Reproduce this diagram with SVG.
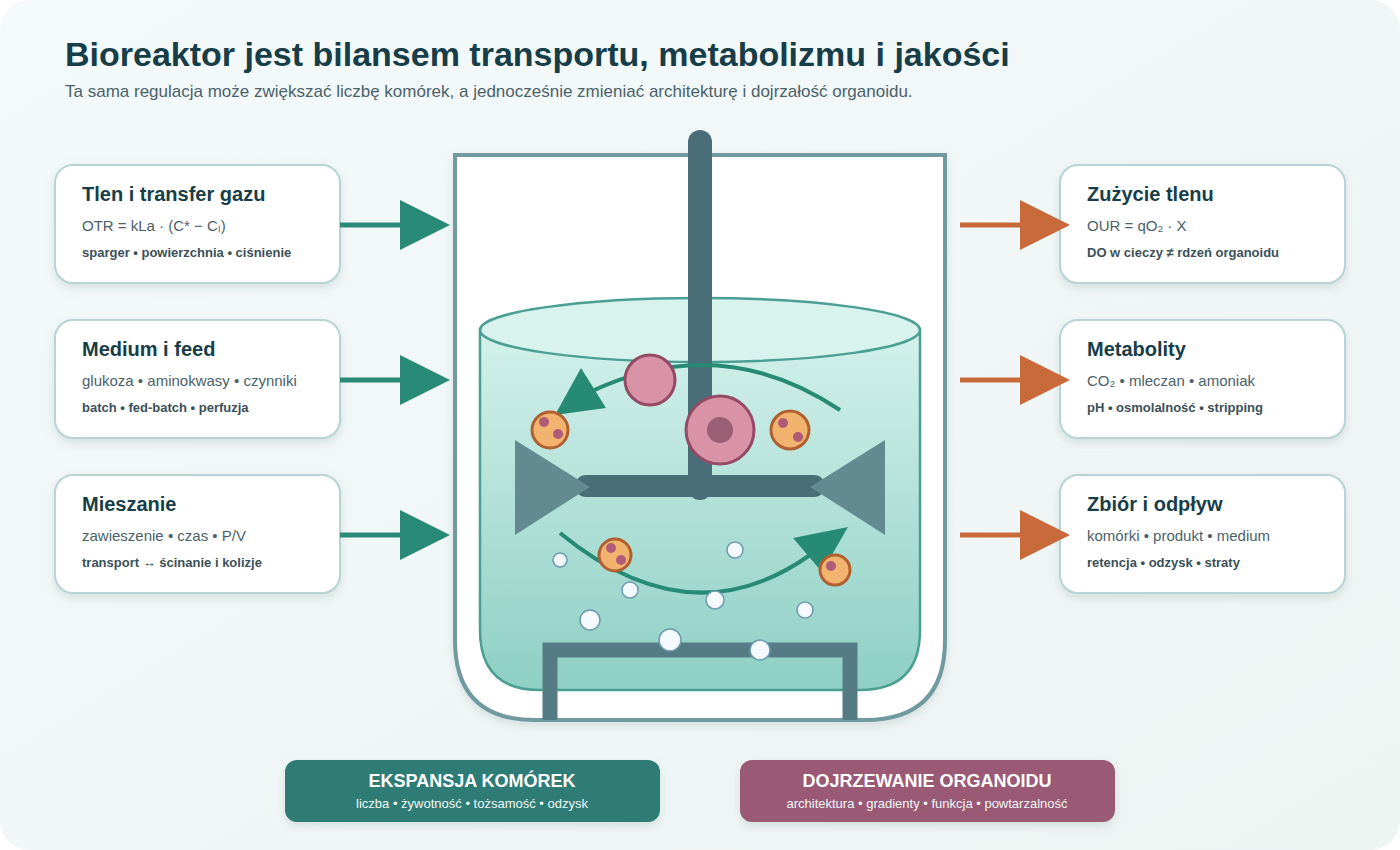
<svg xmlns="http://www.w3.org/2000/svg" width="1400" height="850" viewBox="0 0 1400 850">
<defs>
<linearGradient id="bg" x1="0" y1="0" x2="1" y2="1"><stop offset="0" stop-color="#f4f9fb"/><stop offset="1" stop-color="#eef4f2"/></linearGradient>
<linearGradient id="liq" x1="0" y1="0" x2="0" y2="1"><stop offset="0" stop-color="#d3f1eb"/><stop offset="1" stop-color="#8ecfc4"/></linearGradient>
<filter id="sh" x="-10%" y="-10%" width="120%" height="130%"><feDropShadow dx="0" dy="4" stdDeviation="5" flood-color="#7a9c9c" flood-opacity="0.25"/></filter>
<style>
.box{fill:#fff;stroke:#b8d3d3;stroke-width:2;filter:url(#sh)}
.t{font-family:"Liberation Sans",Arial,sans-serif;font-weight:bold;font-size:20px;fill:#173e48}
.s{font-family:"Liberation Sans",Arial,sans-serif;font-size:15px;fill:#4b626a}
.b{font-family:"Liberation Sans",Arial,sans-serif;font-weight:bold;font-size:13px;fill:#3b5058}
.gl{stroke:#2a8a78;stroke-width:5}.gh{fill:#2a8a78}
.ol{stroke:#c96a3a;stroke-width:5}.oh{fill:#c96a3a}
.oc{fill:#f2b36e;stroke:#b06030;stroke-width:3}.dot{fill:#b05c78}
.bub{fill:#f4faff;stroke:#6c9ab0;stroke-width:1.5}
.pc{fill:#d993a6;stroke:#944a65;stroke-width:3}
.pt{font-family:"Liberation Sans",Arial,sans-serif;font-weight:bold;font-size:18px;fill:#fff}
.ps{font-family:"Liberation Sans",Arial,sans-serif;font-size:13px;fill:#eef6f5}
</style>
</defs>
<rect width="1400" height="850" rx="30" fill="url(#bg)"/>
<text x="65" y="66" font-family="Liberation Sans,Arial,sans-serif" font-weight="bold" font-size="34" fill="#173e48">Bioreaktor jest bilansem transportu, metabolizmu i jakości</text>
<text x="65" y="97" font-family="Liberation Sans,Arial,sans-serif" font-size="17" fill="#4b626a">Ta sama regulacja może zwiększać liczbę komórek, a jednocześnie zmieniać architekturę i dojrzałość organoidu.</text>

<g id="reactor">
<path d="M455 155 H945 V640 Q945 720 865 720 H535 Q455 720 455 640 Z" fill="#fff" stroke="#6f9aa0" stroke-width="4" filter="url(#sh)"/>
<path d="M480 330 H920 V630 Q920 690 860 690 H540 Q480 690 480 630 Z" fill="url(#liq)" stroke="#4a9e92" stroke-width="2.5"/>
<ellipse cx="700" cy="330" rx="220" ry="32" fill="#d8f3ee" stroke="#4a9e92" stroke-width="2.5"/>
<rect x="688" y="130" width="24" height="370" rx="12" fill="#4a6e78"/>
<rect x="575" y="475" width="250" height="22" rx="11" fill="#4a6e78"/>
<polygon points="515,440 515,535 590,487" fill="#628a90"/>
<polygon points="885,440 885,535 810,487" fill="#628a90"/>
<polyline points="550,720 550,650 850,650 850,720" fill="none" stroke="#557c84" stroke-width="15"/>
<path d="M840 410 Q720 330 590 392" fill="none" stroke="#268a74" stroke-width="4"/>
<polygon points="581,368 606,408 555,415" fill="#268a74"/>
<path d="M560 533 Q690 640 810 555" fill="none" stroke="#268a74" stroke-width="4"/>
<polygon points="793,538 848,527 822,572" fill="#268a74"/>
<circle cx="650" cy="380" r="25" class="pc"/>
<circle cx="720" cy="430" r="34" class="pc"/>
<circle cx="720" cy="430" r="13" fill="#9a5f75"/>
<circle cx="550" cy="430" r="18" class="oc"/><circle cx="544" cy="422" r="5" class="dot"/><circle cx="558" cy="434" r="5" class="dot"/>
<circle cx="790" cy="430" r="19" class="oc"/><circle cx="783" cy="423" r="5" class="dot"/><circle cx="798" cy="437" r="5" class="dot"/>
<circle cx="615" cy="555" r="16" class="oc"/><circle cx="611" cy="548" r="5" class="dot"/><circle cx="621" cy="560" r="5" class="dot"/>
<circle cx="835" cy="570" r="15" class="oc"/><circle cx="831" cy="566" r="5" class="dot"/>
<circle cx="560" cy="560" r="7" class="bub"/><circle cx="630" cy="590" r="8" class="bub"/><circle cx="590" cy="620" r="10" class="bub"/>
<circle cx="670" cy="640" r="11" class="bub"/><circle cx="715" cy="600" r="9" class="bub"/><circle cx="735" cy="550" r="8" class="bub"/>
<circle cx="805" cy="610" r="8" class="bub"/><circle cx="760" cy="650" r="10" class="bub"/>
</g>

<g id="n1"><rect x="55" y="165" width="285" height="118" rx="18" class="box"/><text x="82" y="201" class="t">Tlen i transfer gazu</text><text x="82" y="231" class="s">OTR = kLa · (C* − Cₗ)</text><text x="82" y="257" class="b">sparger • powierzchnia • ciśnienie</text></g>
<g id="n2"><rect x="55" y="320" width="285" height="118" rx="18" class="box"/><text x="82" y="356" class="t">Medium i feed</text><text x="82" y="386" class="s">glukoza • aminokwasy • czynniki</text><text x="82" y="412" class="b">batch • fed-batch • perfuzja</text></g>
<g id="n3"><rect x="55" y="475" width="285" height="118" rx="18" class="box"/><text x="82" y="511" class="t">Mieszanie</text><text x="82" y="541" class="s">zawieszenie • czas • P/V</text><text x="82" y="567" class="b">transport ↔ ścinanie i kolizje</text></g>
<g id="n4"><rect x="1060" y="165" width="285" height="118" rx="18" class="box"/><text x="1087" y="201" class="t">Zużycie tlenu</text><text x="1087" y="231" class="s">OUR = qO₂ · X</text><text x="1087" y="257" class="b">DO w cieczy ≠ rdzeń organoidu</text></g>
<g id="n5"><rect x="1060" y="320" width="285" height="118" rx="18" class="box"/><text x="1087" y="356" class="t">Metabolity</text><text x="1087" y="386" class="s">CO₂ • mleczan • amoniak</text><text x="1087" y="412" class="b">pH • osmolalność • stripping</text></g>
<g id="n6"><rect x="1060" y="475" width="285" height="118" rx="18" class="box"/><text x="1087" y="511" class="t">Zbiór i odpływ</text><text x="1087" y="541" class="s">komórki • produkt • medium</text><text x="1087" y="567" class="b">retencja • odzysk • straty</text></g>

<g id="connectors">
<line x1="340" y1="225" x2="405" y2="225" class="gl"/><polygon points="400,200 400,250 450,225" class="gh"/>
<line x1="340" y1="380" x2="405" y2="380" class="gl"/><polygon points="400,355 400,405 450,380" class="gh"/>
<line x1="340" y1="535" x2="405" y2="535" class="gl"/><polygon points="400,510 400,560 450,535" class="gh"/>
<line x1="960" y1="225" x2="1025" y2="225" class="ol"/><polygon points="1020,200 1020,250 1070,225" class="oh"/>
<line x1="960" y1="380" x2="1025" y2="380" class="ol"/><polygon points="1020,355 1020,405 1070,380" class="oh"/>
<line x1="960" y1="535" x2="1025" y2="535" class="ol"/><polygon points="1020,510 1020,560 1070,535" class="oh"/>
</g>

<g id="p1"><rect x="285" y="760" width="375" height="62" rx="12" fill="#2d7c74" filter="url(#sh)"/><text x="472" y="787" text-anchor="middle" class="pt">EKSPANSJA KOMÓREK</text><text x="472" y="808" text-anchor="middle" class="ps">liczba • żywotność • tożsamość • odzysk</text></g>
<g id="p2"><rect x="740" y="760" width="375" height="62" rx="12" fill="#9a5a76" filter="url(#sh)"/><text x="927" y="787" text-anchor="middle" class="pt">DOJRZEWANIE ORGANOIDU</text><text x="927" y="808" text-anchor="middle" class="ps">architektura • gradienty • funkcja • powtarzalność</text></g>
</svg>
